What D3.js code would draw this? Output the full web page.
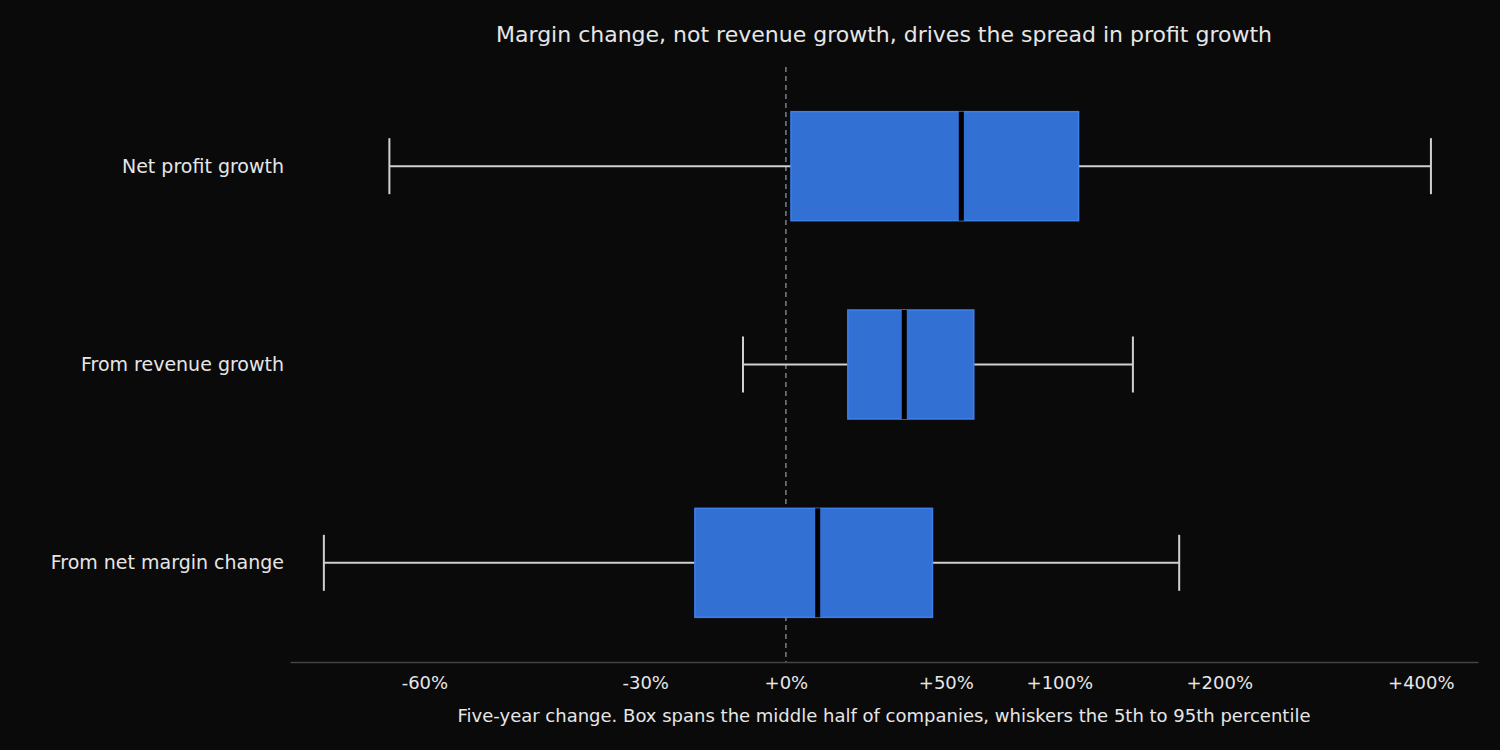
<!DOCTYPE html>
<html>
<head>
<meta charset="utf-8">
<script src="https://cdn.jsdelivr.net/npm/d3@7"></script>
<style>
  body { margin: 0; background: #0a0a0b; }
  svg { font-family: "DejaVu Sans", sans-serif; }
</style>
</head>
<body>
<div class="chart"></div>
<script>
// five-year change, as fractions
const categories = ["Net profit growth", "From revenue growth", "From net margin change"];
const p05 = [-0.634, -0.103, -0.69];
const q1 = [0.013, 0.17, -0.206];
const median = [0.56, 0.35, 0.084];
const q3 = [1.10, 0.61, 0.45];
const p95 = [4.13, 1.41, 1.71];
const tickValues = [-0.6, -0.3, 0, 0.5, 1, 2, 4];

const rows = categories.map((c, i) => ({c, lo: p05[i], q1: q1[i], med: median[i], q3: q3[i], hi: p95[i]}));

const W = 1500, H = 750;
const margin = {top: 67, right: 22, bottom: 88, left: 290};

const svg = d3.select(".chart").append("svg").attr("width", W).attr("height", H);
svg.append("rect").attr("width", W).attr("height", H).attr("fill", "#0a0a0b");

const x = d3.scaleLog().domain([0.2845, 5.78]).range([margin.left, W - margin.right]);
const xv = v => x(1 + v);
const y = d3.scaleBand().domain(categories).range([margin.top, H - margin.bottom]);
const boxH = 109, capH = 56;

svg.append("text").attr("x", 884).attr("y", 42).attr("text-anchor", "middle")
  .attr("fill", "#e6e6e6").style("font-size", "22px")
  .text("Margin change, not revenue growth, drives the spread in profit growth");

// zero reference line
svg.append("line").attr("x1", xv(0)).attr("x2", xv(0))
  .attr("y1", margin.top).attr("y2", H - margin.bottom)
  .attr("stroke", "#7a7f8a").attr("stroke-width", 1.5).attr("stroke-dasharray", "5,4");

const g = svg.selectAll(".row").data(rows).enter().append("g")
  .attr("transform", d => "translate(0," + (y(d.c) + y.bandwidth() / 2) + ")");

g.append("line").attr("x1", d => xv(d.lo)).attr("x2", d => xv(d.q1))
  .attr("stroke", "#d0d0d0").attr("stroke-width", 2);
g.append("line").attr("x1", d => xv(d.q3)).attr("x2", d => xv(d.hi))
  .attr("stroke", "#d0d0d0").attr("stroke-width", 2);
g.append("line").attr("x1", d => xv(d.lo)).attr("x2", d => xv(d.lo))
  .attr("y1", -capH / 2).attr("y2", capH / 2).attr("stroke", "#d0d0d0").attr("stroke-width", 2);
g.append("line").attr("x1", d => xv(d.hi)).attr("x2", d => xv(d.hi))
  .attr("y1", -capH / 2).attr("y2", capH / 2).attr("stroke", "#d0d0d0").attr("stroke-width", 2);
g.append("rect").attr("x", d => xv(d.q1)).attr("width", d => xv(d.q3) - xv(d.q1))
  .attr("y", -boxH / 2).attr("height", boxH)
  .attr("fill", "#3370d4").attr("stroke", "#3f7fea").attr("stroke-width", 1.5);
g.append("line").attr("x1", d => xv(d.med)).attr("x2", d => xv(d.med))
  .attr("y1", -boxH / 2).attr("y2", boxH / 2).attr("stroke", "#000").attr("stroke-width", 5);

g.append("text").attr("x", 284).attr("dy", "0.35em").attr("text-anchor", "end")
  .attr("fill", "#e6e6e6").style("font-size", "19px").text(d => d.c);

// x axis
const axis = svg.append("g").attr("transform", "translate(0," + (H - margin.bottom) + ")")
  .call(d3.axisBottom(x).tickValues(tickValues.map(v => 1 + v)).tickSize(0).tickPadding(14)
    .tickFormat(v => { const p = Math.round((v - 1) * 100); return (p >= 0 ? "+" : "") + p + "%"; }));
axis.select(".domain").attr("stroke", "#444").attr("stroke-width", 1.5);
axis.selectAll("text").attr("fill", "#e6e6e6").style("font-size", "18px")
  .style("font-family", "DejaVu Sans, sans-serif");

svg.append("text").attr("x", 884).attr("y", 722).attr("text-anchor", "middle")
  .attr("fill", "#e6e6e6").style("font-size", "18px")
  .text("Five-year change. Box spans the middle half of companies, whiskers the 5th to 95th percentile");
</script>
</body>
</html>
